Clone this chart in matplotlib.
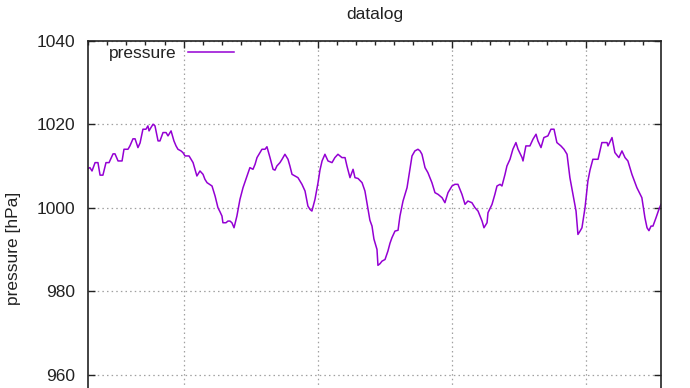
import matplotlib
matplotlib.use("Agg")
import matplotlib.pyplot as plt
from matplotlib.ticker import MultipleLocator, FixedLocator

plt.rcParams['font.family'] = ['Liberation Sans', 'DejaVu Sans']

title = "datalog"
ylabel = "pressure [hPa]"
series_name = "pressure"

days = [0.00, 0.10, 0.21, 0.37, 0.52, 0.63, 0.78, 0.94, 1.10, 1.20, 1.31, 1.41, 1.57, 1.78,
        1.88, 2.09, 2.19, 2.35, 2.46, 2.61, 2.72, 2.87, 3.03, 3.13, 3.19, 3.29, 3.40, 3.50,
        3.66, 3.76, 3.92, 4.08, 4.18, 4.34, 4.49, 4.60, 4.70, 4.86, 4.96, 5.07, 5.28, 5.49,
        5.59, 5.69, 5.85, 6.01, 6.11, 6.22, 6.48, 6.64, 6.79, 6.90, 7.00, 7.05, 7.21, 7.31,
        7.42, 7.52, 7.63, 7.78, 7.94, 8.10, 8.31, 8.46, 8.62, 8.73, 8.83, 8.99, 9.09, 9.25,
        9.35, 9.51, 9.67, 9.77, 9.87, 10.03, 10.14, 10.29, 10.45, 10.55, 10.66, 10.82, 10.97,
        11.18, 11.34, 11.49, 11.60, 11.70, 11.86, 12.02, 12.12, 12.23, 12.38, 12.54, 12.75,
        12.90, 13.06, 13.27, 13.43, 13.53, 13.69, 13.85, 13.95, 14.11, 14.32, 14.47, 14.63,
        14.73, 14.84, 14.94, 15.10, 15.15, 15.26, 15.36, 15.52, 15.67, 15.78, 15.88, 16.04,
        16.20, 16.30, 16.46, 16.67, 16.82, 16.93, 17.08, 17.24, 17.35, 17.45, 17.61, 17.76,
        17.97, 18.13, 18.29, 18.50, 18.65, 18.81, 19.02, 19.17, 19.33, 19.54, 19.70, 19.85,
        20.06, 20.22, 20.38, 20.59, 20.69, 20.85, 20.90, 21.11, 21.26, 21.37, 21.53, 21.63,
        21.79, 21.89, 22.05, 22.20, 22.36, 22.47, 22.68, 22.73, 22.88, 23.09, 23.25, 23.41,
        23.51, 23.67, 23.82, 24.03, 24.19, 24.35, 24.50, 24.71, 24.87, 25.03, 25.18, 25.34,
        25.50, 25.60, 25.71, 25.81, 25.97, 26.12, 26.23, 26.38, 26.65, 26.85, 27.12, 27.17,
        27.38, 27.53, 27.74, 27.90, 28.06, 28.21, 28.42, 28.68, 28.94, 29.10, 29.21, 29.31,
        29.42, 29.52, 29.68, 29.83, 29.94]

pressure = [1009.4, 1009.6, 1008.8, 1010.8, 1010.8, 1007.8, 1007.8, 1010.8, 1010.8, 1011.8,
            1012.9, 1012.9, 1011.2, 1011.2, 1014.0, 1014.0, 1014.8, 1016.5, 1016.5, 1014.4,
            1015.5, 1018.8, 1018.8, 1019.6, 1018.4, 1019.2, 1020.0, 1019.6, 1016.0, 1016.0,
            1018.0, 1018.0, 1017.2, 1018.4, 1016.0, 1014.8, 1014.0, 1013.6, 1013.2, 1012.4,
            1012.4, 1010.8, 1009.2, 1007.6, 1008.8, 1008.0, 1006.8, 1006.0, 1005.2, 1002.8,
            1000.0, 999.0, 998.0, 996.4, 996.4, 996.8, 996.8, 996.4, 995.2, 998.0,
            1002.0, 1004.8, 1007.6, 1009.6, 1009.2, 1010.4, 1012.0, 1013.2, 1014.0, 1014.0,
            1014.6, 1012.0, 1009.2, 1009.0, 1010.0, 1010.8, 1011.6, 1012.8, 1011.6, 1010.0,
            1008.0, 1007.6, 1007.2, 1005.6, 1004.0, 1000.4, 999.6, 999.2, 1002.0, 1006.0,
            1009.0, 1011.2, 1012.8, 1011.2, 1010.8, 1012.0, 1012.8, 1012.0, 1012.0, 1010.0,
            1007.2, 1009.2, 1007.2, 1007.0, 1006.0, 1004.0, 999.6, 997.0, 995.6, 992.5,
            990.0, 986.2, 986.6, 987.2, 987.6, 989.6, 991.5, 992.8, 994.4, 994.6,
            998.0, 1001.6, 1004.8, 1009.2, 1012.4, 1013.6, 1014.0, 1013.6, 1012.8, 1009.6,
            1008.4, 1006.0, 1003.6, 1003.2, 1002.4, 1001.2, 1003.6, 1005.2, 1005.6, 1005.6,
            1003.2, 1000.8, 1001.6, 1001.2, 1000.0, 999.2, 996.8, 995.2, 996.4, 998.8,
            1000.8, 1003.2, 1005.2, 1005.6, 1005.2, 1008.0, 1010.0, 1011.6, 1014.0, 1015.6,
            1014.0, 1012.0, 1011.2, 1014.8, 1014.8, 1016.4, 1017.6, 1016.0, 1014.4, 1016.8,
            1017.2, 1018.8, 1018.8, 1015.6, 1014.8, 1014.0, 1012.8, 1007.2, 1003.2, 999.2,
            993.6, 994.4, 995.2, 1000.0, 1006.4, 1009.0, 1011.6, 1011.6, 1015.6, 1015.6,
            1014.8, 1016.8, 1013.2, 1012.0, 1013.6, 1012.0, 1011.2, 1008.0, 1004.8, 1002.4,
            997.6, 995.2, 994.5, 995.6, 995.6, 997.6, 999.6, 1000.8]

yticks = [960, 980, 1000, 1020, 1040]
xmajor = [5, 12, 19, 26]

W, H = 690, 388
fig = plt.figure(figsize=(W / 100, H / 100), dpi=100)
left, right, top, bottom_px = 88, 661, 40.7, 395.6
ax = fig.add_axes([left / W, (H - bottom_px) / H, (right - left) / W, (bottom_px - top) / H])

ax.plot(days, pressure, color='#9400d3', lw=1.1, label=series_name)
ax.set_xlim(0, 29.94)
ax.set_ylim(955, 1040)

ax.set_yticks(yticks)
ax.xaxis.set_major_locator(FixedLocator(xmajor))
ax.xaxis.set_minor_locator(MultipleLocator(1))
ax.set_xticklabels([])
ax.tick_params(axis='both', which='both', direction='in', top=True, right=True,
               labelsize=12.5, colors='#222222')
ax.tick_params(axis='y', which='major', length=5, width=1, pad=9)
ax.tick_params(axis='x', which='major', length=5, width=1)
ax.tick_params(axis='x', which='minor', length=3, width=1)
for s in ax.spines.values():
    s.set_linewidth(1.2)
    s.set_color('#222222')

ax.grid(True, which='major', color='#a0a0a0', lw=0.9, linestyle=(0, (1.2, 2.5)))

fig.text(((left + right) / 2) / W, 1 - 15 / H, title, ha='center', va='center',
         fontsize=12.5, color='#222222')
fig.text(14 / W, 1 - 248 / H, ylabel, rotation=90, ha='center', va='center',
         fontsize=12.5, color='#222222')

ax.legend(loc='upper left', bbox_to_anchor=(0.024, 1.005), frameon=False, markerfirst=False,
          handlelength=2.6, handletextpad=0.7, borderaxespad=0.0, fontsize=12.5,
          labelcolor='#222222')

fig.savefig("out.png", dpi=100)
